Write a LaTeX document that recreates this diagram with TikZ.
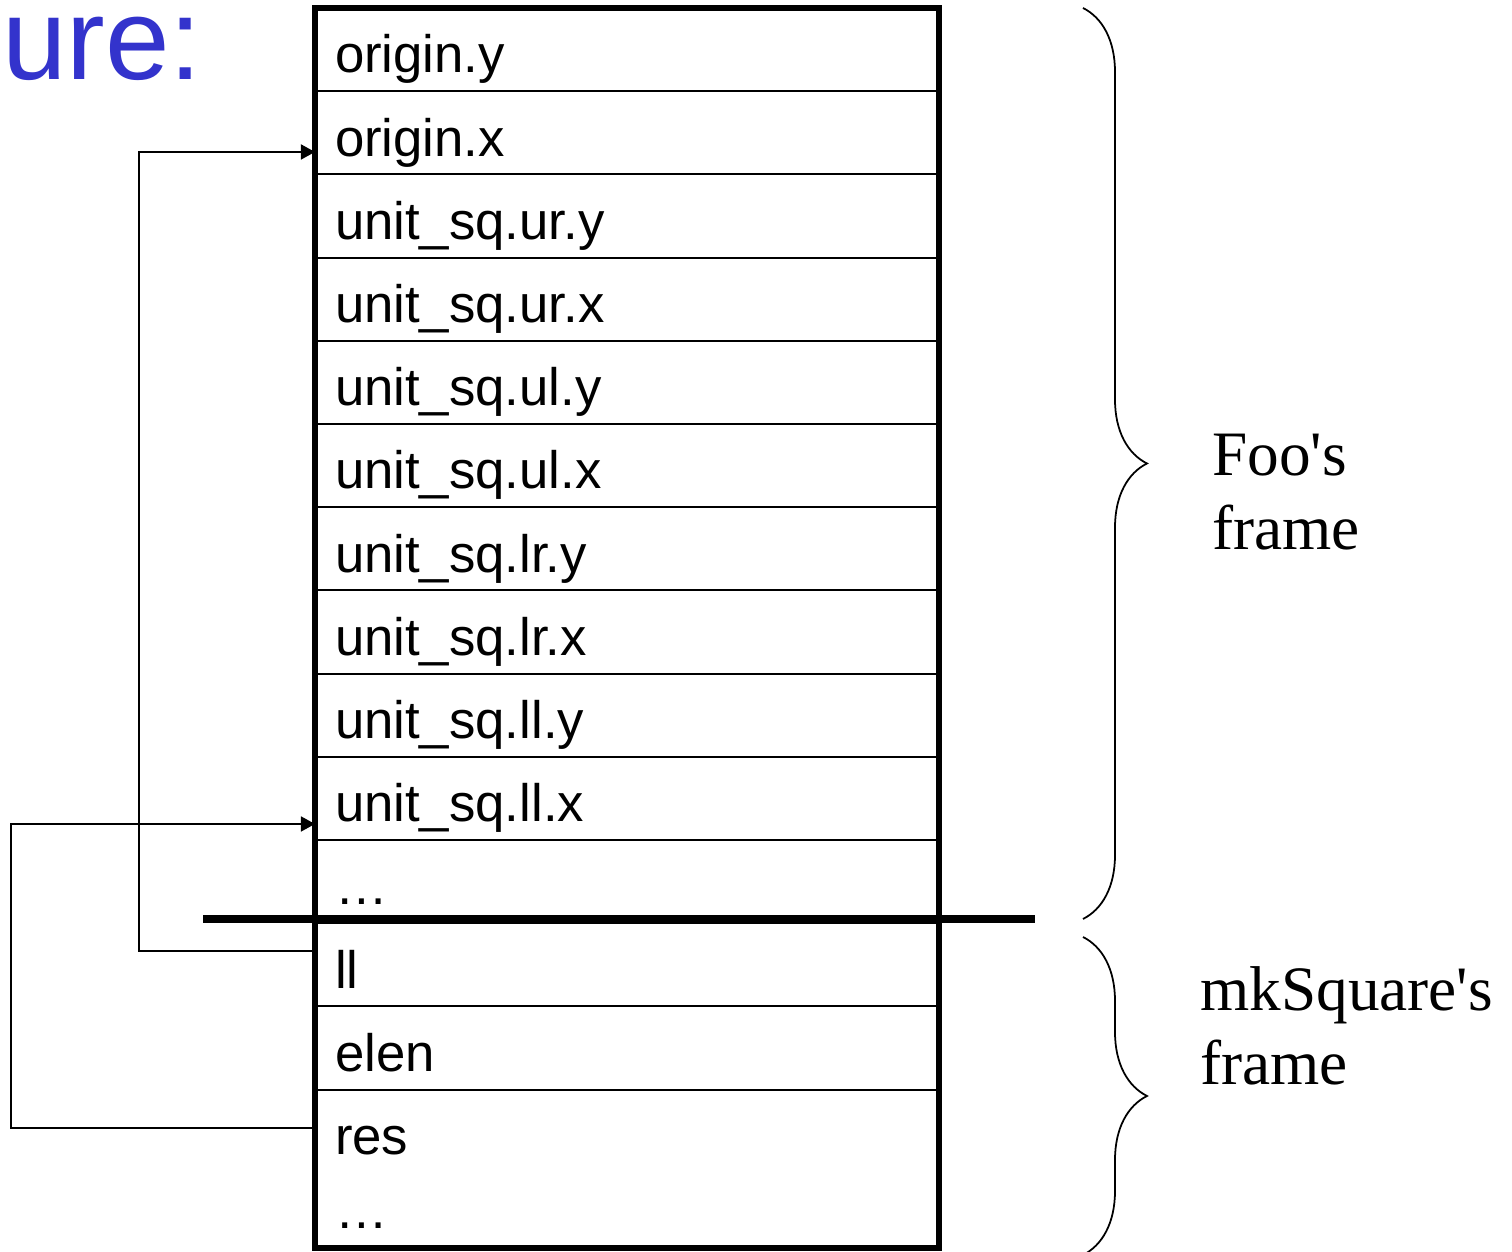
\documentclass[tikz,border=0pt]{standalone}
\usepackage{fontspec}
\usetikzlibrary{positioning}
\usetikzlibrary{decorations.pathreplacing}
\usetikzlibrary{arrows.meta}

\newfontfamily\slotfont{Liberation Sans}
\newfontfamily\notefont{Liberation Serif}
\definecolor{titleblue}{RGB}{51,51,204}

\tikzset{
  slot/.style={draw, line width=1.2pt, outer sep=0pt, inner xsep=0.4cm, inner ysep=0pt,
    minimum width=12.48cm, minimum height=1.664cm, text width=11.68cm, align=left,
    text height=30pt, text depth=3.5pt, font=\slotfont\fontsize{30}{36}\selectfont},
  framebrace/.style={decorate, decoration={brace, amplitude=1.28cm}, line width=1pt},
  framelabel/.style={anchor=base west, align=left, inner sep=0pt, font=\notefont\fontsize{36}{42.5}\selectfont},
  link/.style={line width=1.1pt, -{Triangle[length=8pt, width=8.5pt]}}
}

\begin{document}
\begin{tikzpicture}
			\useasboundingbox (0,0) rectangle (30.24,25.04);
			% heading
			\node[anchor=base west, inner sep=0pt, text=titleblue, font=\slotfont\fontsize{66}{79}\selectfont] (title) at (0.04,23.44) {ure:};
			% Foo's slots
			\node[slot, anchor=north west] (origin-y) at (6.30,24.88) {origin.y};
			\node[slot, below=0pt of origin-y] (origin-x) {origin.x};
			\node[slot, below=0pt of origin-x] (ur-y) {unit\_sq.ur.y};
			\node[slot, below=0pt of ur-y] (ur-x) {unit\_sq.ur.x};
			\node[slot, below=0pt of ur-x] (ul-y) {unit\_sq.ul.y};
			\node[slot, below=0pt of ul-y] (ul-x) {unit\_sq.ul.x};
			\node[slot, below=0pt of ul-x] (lr-y) {unit\_sq.lr.y};
			\node[slot, below=0pt of lr-y] (lr-x) {unit\_sq.lr.x};
			\node[slot, below=0pt of lr-x] (ll-y) {unit\_sq.ll.y};
			\node[slot, below=0pt of ll-y] (ll-x) {unit\_sq.ll.x};
			\node[slot, below=0pt of ll-x] (gap) {…};
			% mkSquare's slots
			\node[slot, below=0pt of gap] (ll) {ll};
			\node[slot, below=0pt of ll] (elen) {elen};
			\node[slot, draw=none, below=0pt of elen] (res) {res};
			\node[slot, draw=none, minimum height=1.504cm, text depth=9pt, below=0pt of res] (rest) {…};
			% outline and frame boundary
			\draw[line width=3pt] (origin-y.north west) rectangle (rest.south east);
			\draw[line width=4.4pt] ([xshift=-2.24cm, yshift=0.08cm]gap.south west) -- ([xshift=1.92cm, yshift=0.08cm]gap.south east);
			% pointers
			\draw[link] ([yshift=0.276cm]ll.west) -- ++(-3.52,0) |- ([yshift=-0.384cm]origin-x.west);
			\draw[link] ([yshift=0.064cm]res.west) -- ++(-6.08,0) |- ([yshift=-0.512cm]ll-x.west);
			% braces
			\draw[framebrace] (21.66,24.88) -- (21.66,6.66);
			\draw[framebrace] (21.66,6.30) -- (21.66,-0.06);
			\node[framelabel] (foo) at (24.24,14.04) {Foo's\\frame};
			\node[framelabel] (mksquare) at (24.00,3.34) {mkSquare's\\frame};
		\end{tikzpicture}
\end{document}
